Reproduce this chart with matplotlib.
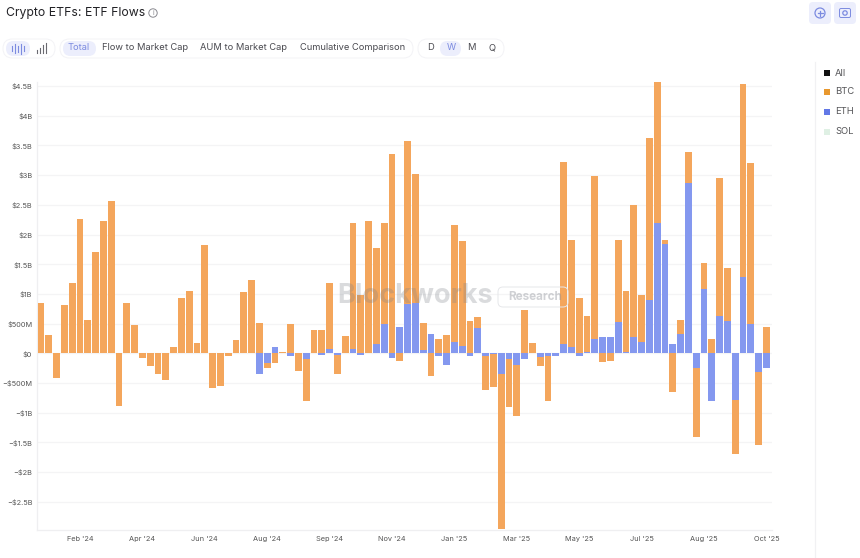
import numpy as np
import matplotlib
matplotlib.use("Agg")
import matplotlib.pyplot as plt
from matplotlib.patches import FancyBboxPatch, Circle, Rectangle

plt.rcParams['font.family'] = ['Inter', 'DejaVu Sans']

eth = [0,0,0,0,0,0,0,0,0,0,0,0,0,0,0,0,0,0,0,0,0,0,0,0,0,0,0,0,
       -.34,-.17,.10,0,-.05,0,-.09,0,-.02,.08,-.02,.01,.08,-.03,.01,.15,.50,-.07,.45,.83,.85,.06,
       .33,-.04,-.19,.20,.12,-.05,.42,-.05,-.01,-.35,-.09,-.20,-.10,0,-.06,-.05,-.04,.15,.10,-.04,
       .02,.25,.28,.27,.53,.02,.28,.20,.90,2.20,1.85,.15,.33,2.87,-.24,1.08,-.80,.63,.55,-.79,
       1.29,.49,-.31,-.25]
btc = [.85,.31,-.42,.81,1.18,2.27,.57,1.71,2.23,2.56,-.89,.85,.48,-.08,-.21,-.34,-.44,.11,.94,1.05,
       .17,1.82,-.58,-.55,-.04,.23,1.04,1.24,.52,-.08,-.17,.02,.49,-.29,-.71,.39,.39,1.10,-.32,.29,
       2.12,.98,2.22,1.63,1.69,3.36,-.13,2.74,2.17,.45,-.38,.24,.31,1.96,1.78,.54,.20,-.57,-.56,-2.60,
       -.81,-.85,.73,.18,-.16,-.75,0,3.07,1.81,.93,.61,2.74,-.15,-.12,1.38,1.03,2.22,.78,2.73,2.38,
       .06,-.65,.24,.52,-1.17,.44,.24,2.33,.88,-.91,3.24,2.72,-1.24,.44]
x_labels = ["Feb '24","Apr '24","Jun '24","Aug '24","Sep '24","Nov '24","Jan '25","Mar '25","May '25","Jul '25","Aug '25","Oct '25"]
y_ticks = [-2.5,-2,-1.5,-1,-.5,0,.5,1,1.5,2,2.5,3,3.5,4,4.5]
y_labels = ["−$2.5B","−$2B","−$1.5B","−$1B","−$500M","$0","$500M","$1B","$1.5B","$2B","$2.5B","$3B","$3.5B","$4B","$4.5B"]
legend_names = ["All","BTC","ETH","SOL"]
legend_colors = ["#111111","#E8982E","#6278E6","#DFF0E4"]
ORANGE, BLUE = "#F4A65C", "#8498EF"

W, H = 860, 558
fig = plt.figure(figsize=(W/100, H/100), dpi=100, facecolor="white")
L, R, T, B = 37, 772, 82, 530
ax = fig.add_axes([L/W, 1-B/H, (R-L)/W, (B-T)/H])

e = np.array(eth); b = np.array(btc); x = np.arange(len(e))
bottom = np.where(e*b > 0, e, 0.0)
ax.bar(x, e, width=.86, color=BLUE, zorder=3, linewidth=0)
ax.bar(x, b, bottom=bottom, width=.86, color=ORANGE, zorder=3, linewidth=0)

ax.set_xlim((L-41)/7.8, (R-41)/7.8)
ax.set_ylim((353.4-B)/59.4, (353.4-T)/59.4)
ax.set_yticks(y_ticks, y_labels)
ax.set_xticks(np.arange(5, len(e), 8), x_labels)
ax.tick_params(length=0, labelsize=5.3, labelcolor="#555555")
ax.tick_params(axis='y', pad=3.4)
ax.tick_params(axis='x', pad=4.6)
ax.grid(axis='y', color="#F4F4F5", linewidth=.9, zorder=0)
for s in ("top", "right"):
    ax.spines[s].set_visible(False)
for s in ("left", "bottom"):
    ax.spines[s].set_color("#EFEFF1")
    ax.spines[s].set_linewidth(.9)

# pixel-space overlay for the page furniture
ov = fig.add_axes([0, 0, 1, 1], facecolor="none")
ov.set_xlim(0, W); ov.set_ylim(H, 0); ov.axis("off")

def pill(x0, y0, w, h, fc, ec="none", r=None, z=1):
    r = h/2 if r is None else r
    ov.add_patch(FancyBboxPatch((x0+r, y0+r), w-2*r, h-2*r, boxstyle=f"round,pad={r},rounding_size={r}",
                                fc=fc, ec=ec, lw=.7, zorder=z))

LAV = "#ECEEFC"; TXT = "#4A4A50"; ACC = "#7C8BE0"
ov.text(6, 13, "Crypto ETFs: ETF Flows", fontsize=8.8, color="#222226", va="center", ha="left")
ov.add_patch(Circle((153, 13), 4.2, fc="none", ec="#8A8A90", lw=.7))
ov.text(153, 13, "i", fontsize=5, color="#8A8A90", ha="center", va="center")

pill(3, 39, 52, 19, "white", "#F3F3F6")
pill(6, 41, 24, 15, LAV)
for xx, hh in zip((12, 15, 18, 21, 24), (5, 9, 6, 10, 5)):
    ov.plot([xx, xx], [48.5-hh/2, 48.5+hh/2], color=ACC, lw=.8, zorder=2)
for xx, hh in zip((37, 40, 43, 46), (3, 5, 8, 10)):
    ov.plot([xx, xx], [53, 53-hh], color="#6A6A70", lw=.8, zorder=2)

pill(60, 39, 353, 19, "white", "#F3F3F6")
pill(63, 41, 33, 15, LAV)
ov.text(79, 48, "Total", fontsize=6.7, color=ACC, ha="center", va="center", zorder=3)
for cx, t in ((145, "Flow to Market Cap"), (244, "AUM to Market Cap"), (353, "Cumulative Comparison")):
    ov.text(cx, 48, t, fontsize=6.7, color=TXT, ha="center", va="center", zorder=3)

pill(418, 39, 86, 19, "white", "#F3F3F6")
pill(440, 41, 21, 15, LAV)
for cx, t, c in ((430, "D", TXT), (451, "W", ACC), (471, "M", TXT), (492, "Q", TXT)):
    ov.text(cx, 48, t, fontsize=6.7, color=c, ha="center", va="center", zorder=3)

# top-right buttons
pill(809, 2, 22, 22, LAV, r=4)
pill(834, 2, 22, 22, LAV, r=4)
ov.add_patch(Circle((820, 13), 5, fc="none", ec=ACC, lw=.9, zorder=3))
ov.plot([817.5, 822.5], [13, 13], color=ACC, lw=.9, zorder=3)
ov.plot([820, 820], [10.5, 15.5], color=ACC, lw=.9, zorder=3)
pill(839.5, 8.5, 11, 9, "none", ACC, r=1.5, z=3)
ov.add_patch(Circle((845, 13), 2.2, fc="none", ec=ACC, lw=.9, zorder=4))

# legend
ov.plot([815, 815], [62, H], color="#F1F1F3", lw=.9)
for yy, name, col in zip((73, 92, 112, 132), legend_names, legend_colors):
    ov.add_patch(Rectangle((824, yy-3), 6, 6, fc=col, ec="none"))
    ov.text(835, yy, name, fontsize=6.8, color="#555558", va="center", ha="left")

# watermark
ov.text(337, 296, "Blockworks", fontsize=19.5, fontweight="bold", color="#7A8088", alpha=.28,
        va="center", ha="left", zorder=5)
pill(498, 287, 70, 20, "none", "#E6E7EA", r=5, z=5)
ov.text(508, 297, "Research", fontsize=8.4, fontweight="bold", color="#8A8E96", alpha=.4,
        va="center", ha="left", zorder=5)

fig.savefig("out.png", dpi=100, facecolor="white")
